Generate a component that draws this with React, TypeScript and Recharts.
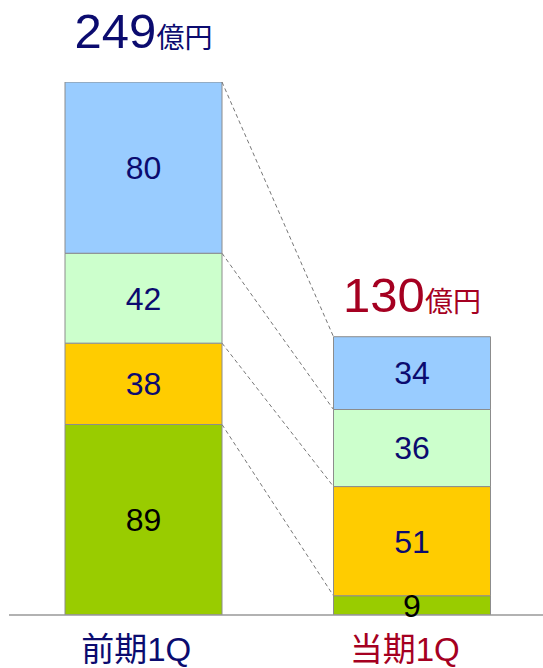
import { BarChart, Bar, XAxis, YAxis, LabelList, Rectangle } from 'recharts';

const categories = ['前期1Q', '当期1Q'];
const greenVals = [89, 9];
const yellowVals = [38, 51];
const lightGreenVals = [42, 36];
const blueVals = [80, 34];
const totals = [249, 130];
const totalUnit = '億円';

const NAVY = '#0b0b6f';
const RED = '#a50021';
const catColors = [NAVY, RED];
const FONT = '"Liberation Sans", Arial, "Noto Sans CJK JP", sans-serif';

const CHART_W = 543;
const CHART_H = 668;
const MARGIN = { top: 82, right: -3, left: 9, bottom: 0 };
const BAR_SIZE = 157;
const PLOT_W = CHART_W - MARGIN.left - MARGIN.right;
const BAND = PLOT_W / categories.length;

const data = categories.map((name, i) => ({
  name,
  green: greenVals[i],
  yellow: yellowVals[i],
  lightGreen: lightGreenVals[i],
  blue: blueVals[i],
  total: totals[i],
}));

// cumulative stack tops for each bar, bottom -> top
function stackTops(i: number) {
  const parts = [greenVals[i], yellowVals[i], lightGreenVals[i], blueVals[i]];
  let acc = 0;
  return parts.map((v) => (acc += v));
}
const leftTops = stackTops(0);
const rightTops = stackTops(1);

// bar segment that, on the first bar, also draws the dashed connector
// from its top-right corner to the matching level on the next bar
function makeShape(level: number, value: (i: number) => number) {
  return (props: any) => {
    const { x, y, width, height, index } = props;
    let connector = null;
    if (index === 0 && height > 0) {
      const k = height / value(0);
      const base = y + leftTops[level] * k;
      connector = (
        <line
          x1={x + width}
          y1={y}
          x2={x + BAND}
          y2={base - rightTops[level] * k}
          stroke="#777"
          strokeDasharray="4 3"
          strokeWidth={1}
        />
      );
    }
    return (
      <g>
        <Rectangle {...props} />
        {connector}
      </g>
    );
  };
}

const totalGap = [34, 25];

function TotalLabel(props: any) {
  const { x, y, width, index } = props;
  return (
    <text
      x={x + width / 2}
      y={y - totalGap[index]}
      textAnchor="middle"
      fill={catColors[index]}
      fontFamily={FONT}
    >
      <tspan fontSize={49}>{totals[index]}</tspan>
      <tspan fontSize={28}>{totalUnit}</tspan>
    </text>
  );
}

function CatTick(props: any) {
  const { x, y, payload, index } = props;
  return (
    <text
      x={x - 7}
      y={y + 38}
      textAnchor="middle"
      fill={catColors[index]}
      fontFamily={FONT}
      fontSize={33}
    >
      {payload.value}
    </text>
  );
}

const labelStyle = { fontFamily: FONT, fontSize: 32 };

export default function App() {
  return (
    <div style={{ position: 'absolute', left: 0, top: 0, background: '#fff' }}>
      <BarChart width={CHART_W} height={CHART_H} data={data} margin={MARGIN}>
        <XAxis
          dataKey="name"
          height={53}
          tickLine={false}
          axisLine={{ stroke: '#999', strokeWidth: 1.5 }}
          tick={<CatTick />}
          interval={0}
        />
        <YAxis hide domain={[0, 249]} allowDataOverflow />
        <Bar
          dataKey="green"
          stackId="a"
          fill="#99cc00"
          stroke="#8c8c8c"
          barSize={BAR_SIZE}
          isAnimationActive={false}
          shape={makeShape(0, (i) => greenVals[i])}
        >
          <LabelList dataKey="green" position="center" fill="#000" style={labelStyle} />
        </Bar>
        <Bar
          dataKey="yellow"
          stackId="a"
          fill="#ffcc00"
          stroke="#8c8c8c"
          barSize={BAR_SIZE}
          isAnimationActive={false}
          shape={makeShape(1, (i) => yellowVals[i])}
        >
          <LabelList dataKey="yellow" position="center" fill={NAVY} style={labelStyle} />
        </Bar>
        <Bar
          dataKey="lightGreen"
          stackId="a"
          fill="#ccffcc"
          stroke="#8c8c8c"
          barSize={BAR_SIZE}
          isAnimationActive={false}
          shape={makeShape(2, (i) => lightGreenVals[i])}
        >
          <LabelList dataKey="lightGreen" position="center" fill={NAVY} style={labelStyle} />
        </Bar>
        <Bar
          dataKey="blue"
          stackId="a"
          fill="#99ccff"
          stroke="#8c8c8c"
          barSize={BAR_SIZE}
          isAnimationActive={false}
          shape={makeShape(3, (i) => blueVals[i])}
        >
          <LabelList dataKey="blue" position="center" fill={NAVY} style={labelStyle} />
          <LabelList dataKey="total" content={<TotalLabel />} />
        </Bar>
      </BarChart>
    </div>
  );
}
